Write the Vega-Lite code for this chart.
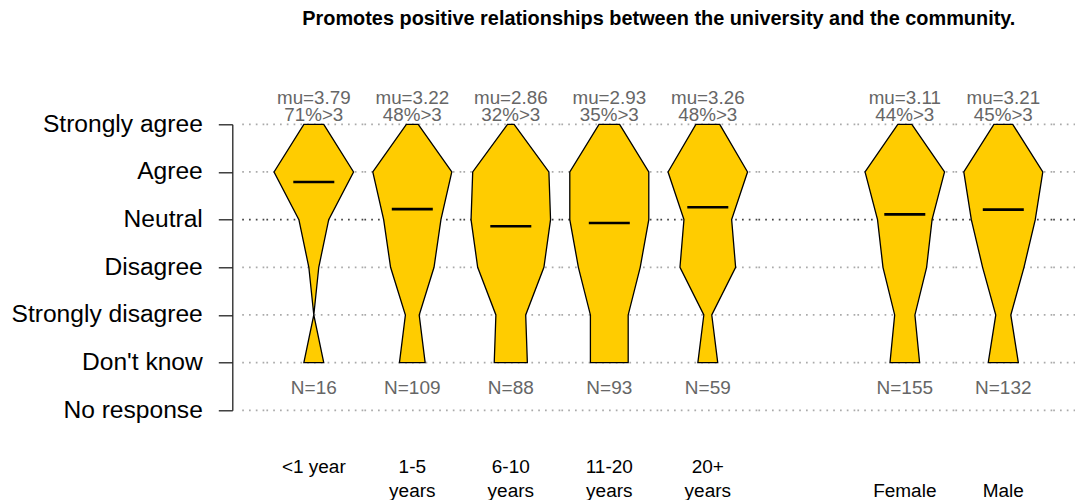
{
  "$schema": "https://vega.github.io/schema/vega-lite/v6.json",
  "padding": {"left": 10.3, "top": 9.3, "right": 0, "bottom": 0},
  "title": {
    "text": "Promotes positive relationships between the university and the community.",
    "font": "Liberation Sans",
    "fontSize": 19.9,
    "fontWeight": "bold",
    "color": "#000000",
    "anchor": "start",
    "frame": "group",
    "dx": 62,
    "offset": 60
  },
  "datasets": {
    "levels": [
      {"level": -1}, {"level": 0}, {"level": 1}, {"level": 2}, {"level": 3}, {"level": 4}, {"level": 5}
    ],
    "main": [
      {"grp": "<1 year", "kind": "shape", "level": 0, "count": 2},
      {"grp": "<1 year", "kind": "shape", "level": 1, "count": 0},
      {"grp": "<1 year", "kind": "shape", "level": 2, "count": 1},
      {"grp": "<1 year", "kind": "shape", "level": 3, "count": 3},
      {"grp": "<1 year", "kind": "shape", "level": 4, "count": 8},
      {"grp": "<1 year", "kind": "shape", "level": 5, "count": 2},
      {"grp": "1-5 years", "kind": "shape", "level": 0, "count": 13},
      {"grp": "1-5 years", "kind": "shape", "level": 1, "count": 7},
      {"grp": "1-5 years", "kind": "shape", "level": 2, "count": 22},
      {"grp": "1-5 years", "kind": "shape", "level": 3, "count": 29},
      {"grp": "1-5 years", "kind": "shape", "level": 4, "count": 40},
      {"grp": "1-5 years", "kind": "shape", "level": 5, "count": 6},
      {"grp": "6-10 years", "kind": "shape", "level": 0, "count": 10},
      {"grp": "6-10 years", "kind": "shape", "level": 1, "count": 9},
      {"grp": "6-10 years", "kind": "shape", "level": 2, "count": 20},
      {"grp": "6-10 years", "kind": "shape", "level": 3, "count": 24},
      {"grp": "6-10 years", "kind": "shape", "level": 4, "count": 23},
      {"grp": "6-10 years", "kind": "shape", "level": 5, "count": 2},
      {"grp": "11-20 years", "kind": "shape", "level": 0, "count": 11},
      {"grp": "11-20 years", "kind": "shape", "level": 1, "count": 11},
      {"grp": "11-20 years", "kind": "shape", "level": 2, "count": 18},
      {"grp": "11-20 years", "kind": "shape", "level": 3, "count": 23},
      {"grp": "11-20 years", "kind": "shape", "level": 4, "count": 23},
      {"grp": "11-20 years", "kind": "shape", "level": 5, "count": 6},
      {"grp": "20+ years", "kind": "shape", "level": 0, "count": 5},
      {"grp": "20+ years", "kind": "shape", "level": 1, "count": 2},
      {"grp": "20+ years", "kind": "shape", "level": 2, "count": 14},
      {"grp": "20+ years", "kind": "shape", "level": 3, "count": 12},
      {"grp": "20+ years", "kind": "shape", "level": 4, "count": 20},
      {"grp": "20+ years", "kind": "shape", "level": 5, "count": 6},
      {"grp": "Female", "kind": "shape", "level": 0, "count": 19},
      {"grp": "Female", "kind": "shape", "level": 1, "count": 13},
      {"grp": "Female", "kind": "shape", "level": 2, "count": 28},
      {"grp": "Female", "kind": "shape", "level": 3, "count": 35},
      {"grp": "Female", "kind": "shape", "level": 4, "count": 51},
      {"grp": "Female", "kind": "shape", "level": 5, "count": 9},
      {"grp": "Male", "kind": "shape", "level": 0, "count": 16},
      {"grp": "Male", "kind": "shape", "level": 1, "count": 8},
      {"grp": "Male", "kind": "shape", "level": 2, "count": 22},
      {"grp": "Male", "kind": "shape", "level": 3, "count": 34},
      {"grp": "Male", "kind": "shape", "level": 4, "count": 42},
      {"grp": "Male", "kind": "shape", "level": 5, "count": 10},
      {"grp": "<1 year", "kind": "stat", "mu": 3.79, "top": "mu=3.79\n71%>3", "ntext": "N=16", "label": "<1 year"},
      {"grp": "1-5 years", "kind": "stat", "mu": 3.22, "top": "mu=3.22\n48%>3", "ntext": "N=109", "label": "1-5\nyears"},
      {"grp": "6-10 years", "kind": "stat", "mu": 2.86, "top": "mu=2.86\n32%>3", "ntext": "N=88", "label": "6-10\nyears"},
      {"grp": "11-20 years", "kind": "stat", "mu": 2.93, "top": "mu=2.93\n35%>3", "ntext": "N=93", "label": "11-20\nyears"},
      {"grp": "20+ years", "kind": "stat", "mu": 3.26, "top": "mu=3.26\n48%>3", "ntext": "N=59", "label": "20+\nyears"},
      {"grp": "Female", "kind": "stat", "mu": 3.11, "top": "mu=3.11\n44%>3", "ntext": "N=155", "label": "\nFemale"},
      {"grp": "Male", "kind": "stat", "mu": 3.21, "top": "mu=3.21\n45%>3", "ntext": "N=132", "label": "\nMale"}
    ]
  },
  "spacing": 0,
  "bounds": "flush",
  "hconcat": [
    {
      "width": 24, "height": 286,
      "data": {"name": "levels"},
      "mark": {"type": "rule", "strokeDash": [1.7, 5.1], "strokeWidth": 1.7},
      "encoding": {
        "y": {
          "field": "level", "type": "quantitative",
          "scale": {"domain": [-1, 5], "nice": false, "zero": false},
          "axis": {
            "values": [-1, 0, 1, 2, 3, 4, 5],
            "labelExpr": "datum.value === 5 ? 'Strongly agree' : datum.value === 4 ? 'Agree' : datum.value === 3 ? 'Neutral' : datum.value === 2 ? 'Disagree' : datum.value === 1 ? 'Strongly disagree' : datum.value === 0 ? \"Don't know\" : 'No response'",
            "labelFont": "Liberation Sans", "labelFontSize": 24.6, "labelColor": "#000000",
            "labelPadding": 16, "labelLimit": 0, "labelOverlap": false, "labelFlush": false, "labelBaseline": "middle",
            "tickSize": 14, "tickColor": "#222222", "tickWidth": 1.3,
            "domainColor": "#222222", "domainWidth": 1.3,
            "offset": 8, "grid": false, "title": null
          }
        },
        "color": {"condition": {"test": "datum.level === 3", "value": "#444444"}, "value": "#aaaaaa"}
      }
    },
    {
      "width": 99, "height": 286,
      "layer": [
        {"data": {"name": "levels"}, "mark": {"type": "rule", "strokeDash": [1.7, 5.1], "strokeWidth": 1.7},
         "encoding": {"y": {"field": "level", "type": "quantitative", "scale": {"domain": [-1, 5], "nice": false, "zero": false}, "axis": null},
                      "color": {"condition": {"test": "datum.level === 3", "value": "#444444"}, "value": "#aaaaaa"}}},
        {"data": {"name": "main"}, "transform": [{"filter": "datum.grp === '<1 year' && datum.kind === 'shape'"}],
         "mark": {"type": "area", "orient": "horizontal", "fill": "#FFCC00", "stroke": "#000000", "strokeWidth": 1.3, "opacity": 1, "strokeJoin": "miter"},
         "encoding": {"y": {"field": "level", "type": "quantitative", "scale": {"domain": [-1, 5], "nice": false, "zero": false}, "axis": null},
                      "x": {"field": "count", "type": "quantitative", "stack": "center", "scale": {"zero": false, "nice": false, "padding": 9.75}, "axis": null}}},
        {"data": {"name": "main"}, "transform": [{"filter": "datum.grp === '<1 year' && datum.kind === 'stat'"}],
         "mark": {"type": "tick", "orient": "horizontal", "size": 41, "thickness": 2.6, "color": "#000000", "opacity": 1},
         "encoding": {"y": {"field": "mu", "type": "quantitative", "scale": {"domain": [-1, 5], "nice": false, "zero": false}, "axis": null}}},
        {"data": {"name": "main"}, "transform": [{"filter": "datum.grp === '<1 year' && datum.kind === 'stat'"}],
         "mark": {"type": "text", "font": "Liberation Sans", "fontSize": 18.8, "color": "#666666", "baseline": "alphabetic", "dy": -20, "lineBreak": "\n", "lineHeight": 16.7},
         "encoding": {"y": {"datum": 5, "type": "quantitative"}, "text": {"field": "top"}}},
        {"data": {"name": "main"}, "transform": [{"filter": "datum.grp === '<1 year' && datum.kind === 'stat'"}],
         "mark": {"type": "text", "font": "Liberation Sans", "fontSize": 19, "color": "#666666", "baseline": "alphabetic", "dy": 31.3},
         "encoding": {"y": {"datum": 0, "type": "quantitative"}, "text": {"field": "ntext"}}},
        {"data": {"name": "main"}, "transform": [{"filter": "datum.grp === '<1 year' && datum.kind === 'stat'"}],
         "mark": {"type": "text", "font": "Liberation Sans", "fontSize": 19, "color": "#000000", "baseline": "alphabetic", "dy": 63, "lineBreak": "\n", "lineHeight": 24},
         "encoding": {"y": {"datum": -1, "type": "quantitative"}, "text": {"field": "label"}}}
      ]
    },
    {
      "width": 98, "height": 286,
      "layer": [
        {"data": {"name": "levels"}, "mark": {"type": "rule", "strokeDash": [1.7, 5.1], "strokeWidth": 1.7},
         "encoding": {"y": {"field": "level", "type": "quantitative", "scale": {"domain": [-1, 5], "nice": false, "zero": false}, "axis": null},
                      "color": {"condition": {"test": "datum.level === 3", "value": "#444444"}, "value": "#aaaaaa"}}},
        {"data": {"name": "main"}, "transform": [{"filter": "datum.grp === '1-5 years' && datum.kind === 'shape'"}],
         "mark": {"type": "area", "orient": "horizontal", "fill": "#FFCC00", "stroke": "#000000", "strokeWidth": 1.3, "opacity": 1, "strokeJoin": "miter"},
         "encoding": {"y": {"field": "level", "type": "quantitative", "scale": {"domain": [-1, 5], "nice": false, "zero": false}, "axis": null},
                      "x": {"field": "count", "type": "quantitative", "stack": "center", "scale": {"zero": false, "nice": false, "padding": 9.5}, "axis": null}}},
        {"data": {"name": "main"}, "transform": [{"filter": "datum.grp === '1-5 years' && datum.kind === 'stat'"}],
         "mark": {"type": "tick", "orient": "horizontal", "size": 41, "thickness": 2.6, "color": "#000000", "opacity": 1},
         "encoding": {"y": {"field": "mu", "type": "quantitative", "scale": {"domain": [-1, 5], "nice": false, "zero": false}, "axis": null}}},
        {"data": {"name": "main"}, "transform": [{"filter": "datum.grp === '1-5 years' && datum.kind === 'stat'"}],
         "mark": {"type": "text", "font": "Liberation Sans", "fontSize": 18.8, "color": "#666666", "baseline": "alphabetic", "dy": -20, "lineBreak": "\n", "lineHeight": 16.7},
         "encoding": {"y": {"datum": 5, "type": "quantitative"}, "text": {"field": "top"}}},
        {"data": {"name": "main"}, "transform": [{"filter": "datum.grp === '1-5 years' && datum.kind === 'stat'"}],
         "mark": {"type": "text", "font": "Liberation Sans", "fontSize": 19, "color": "#666666", "baseline": "alphabetic", "dy": 31.3},
         "encoding": {"y": {"datum": 0, "type": "quantitative"}, "text": {"field": "ntext"}}},
        {"data": {"name": "main"}, "transform": [{"filter": "datum.grp === '1-5 years' && datum.kind === 'stat'"}],
         "mark": {"type": "text", "font": "Liberation Sans", "fontSize": 19, "color": "#000000", "baseline": "alphabetic", "dy": 63, "lineBreak": "\n", "lineHeight": 24},
         "encoding": {"y": {"datum": -1, "type": "quantitative"}, "text": {"field": "label"}}}
      ]
    },
    {
      "width": 99, "height": 286,
      "layer": [
        {"data": {"name": "levels"}, "mark": {"type": "rule", "strokeDash": [1.7, 5.1], "strokeWidth": 1.7},
         "encoding": {"y": {"field": "level", "type": "quantitative", "scale": {"domain": [-1, 5], "nice": false, "zero": false}, "axis": null},
                      "color": {"condition": {"test": "datum.level === 3", "value": "#444444"}, "value": "#aaaaaa"}}},
        {"data": {"name": "main"}, "transform": [{"filter": "datum.grp === '6-10 years' && datum.kind === 'shape'"}],
         "mark": {"type": "area", "orient": "horizontal", "fill": "#FFCC00", "stroke": "#000000", "strokeWidth": 1.3, "opacity": 1, "strokeJoin": "miter"},
         "encoding": {"y": {"field": "level", "type": "quantitative", "scale": {"domain": [-1, 5], "nice": false, "zero": false}, "axis": null},
                      "x": {"field": "count", "type": "quantitative", "stack": "center", "scale": {"zero": false, "nice": false, "padding": 9.75}, "axis": null}}},
        {"data": {"name": "main"}, "transform": [{"filter": "datum.grp === '6-10 years' && datum.kind === 'stat'"}],
         "mark": {"type": "tick", "orient": "horizontal", "size": 41, "thickness": 2.6, "color": "#000000", "opacity": 1},
         "encoding": {"y": {"field": "mu", "type": "quantitative", "scale": {"domain": [-1, 5], "nice": false, "zero": false}, "axis": null}}},
        {"data": {"name": "main"}, "transform": [{"filter": "datum.grp === '6-10 years' && datum.kind === 'stat'"}],
         "mark": {"type": "text", "font": "Liberation Sans", "fontSize": 18.8, "color": "#666666", "baseline": "alphabetic", "dy": -20, "lineBreak": "\n", "lineHeight": 16.7},
         "encoding": {"y": {"datum": 5, "type": "quantitative"}, "text": {"field": "top"}}},
        {"data": {"name": "main"}, "transform": [{"filter": "datum.grp === '6-10 years' && datum.kind === 'stat'"}],
         "mark": {"type": "text", "font": "Liberation Sans", "fontSize": 19, "color": "#666666", "baseline": "alphabetic", "dy": 31.3},
         "encoding": {"y": {"datum": 0, "type": "quantitative"}, "text": {"field": "ntext"}}},
        {"data": {"name": "main"}, "transform": [{"filter": "datum.grp === '6-10 years' && datum.kind === 'stat'"}],
         "mark": {"type": "text", "font": "Liberation Sans", "fontSize": 19, "color": "#000000", "baseline": "alphabetic", "dy": 63, "lineBreak": "\n", "lineHeight": 24},
         "encoding": {"y": {"datum": -1, "type": "quantitative"}, "text": {"field": "label"}}}
      ]
    },
    {
      "width": 98, "height": 286,
      "layer": [
        {"data": {"name": "levels"}, "mark": {"type": "rule", "strokeDash": [1.7, 5.1], "strokeWidth": 1.7},
         "encoding": {"y": {"field": "level", "type": "quantitative", "scale": {"domain": [-1, 5], "nice": false, "zero": false}, "axis": null},
                      "color": {"condition": {"test": "datum.level === 3", "value": "#444444"}, "value": "#aaaaaa"}}},
        {"data": {"name": "main"}, "transform": [{"filter": "datum.grp === '11-20 years' && datum.kind === 'shape'"}],
         "mark": {"type": "area", "orient": "horizontal", "fill": "#FFCC00", "stroke": "#000000", "strokeWidth": 1.3, "opacity": 1, "strokeJoin": "miter"},
         "encoding": {"y": {"field": "level", "type": "quantitative", "scale": {"domain": [-1, 5], "nice": false, "zero": false}, "axis": null},
                      "x": {"field": "count", "type": "quantitative", "stack": "center", "scale": {"zero": false, "nice": false, "padding": 9.5}, "axis": null}}},
        {"data": {"name": "main"}, "transform": [{"filter": "datum.grp === '11-20 years' && datum.kind === 'stat'"}],
         "mark": {"type": "tick", "orient": "horizontal", "size": 41, "thickness": 2.6, "color": "#000000", "opacity": 1},
         "encoding": {"y": {"field": "mu", "type": "quantitative", "scale": {"domain": [-1, 5], "nice": false, "zero": false}, "axis": null}}},
        {"data": {"name": "main"}, "transform": [{"filter": "datum.grp === '11-20 years' && datum.kind === 'stat'"}],
         "mark": {"type": "text", "font": "Liberation Sans", "fontSize": 18.8, "color": "#666666", "baseline": "alphabetic", "dy": -20, "lineBreak": "\n", "lineHeight": 16.7},
         "encoding": {"y": {"datum": 5, "type": "quantitative"}, "text": {"field": "top"}}},
        {"data": {"name": "main"}, "transform": [{"filter": "datum.grp === '11-20 years' && datum.kind === 'stat'"}],
         "mark": {"type": "text", "font": "Liberation Sans", "fontSize": 19, "color": "#666666", "baseline": "alphabetic", "dy": 31.3},
         "encoding": {"y": {"datum": 0, "type": "quantitative"}, "text": {"field": "ntext"}}},
        {"data": {"name": "main"}, "transform": [{"filter": "datum.grp === '11-20 years' && datum.kind === 'stat'"}],
         "mark": {"type": "text", "font": "Liberation Sans", "fontSize": 19, "color": "#000000", "baseline": "alphabetic", "dy": 63, "lineBreak": "\n", "lineHeight": 24},
         "encoding": {"y": {"datum": -1, "type": "quantitative"}, "text": {"field": "label"}}}
      ]
    },
    {
      "width": 99, "height": 286,
      "layer": [
        {"data": {"name": "levels"}, "mark": {"type": "rule", "strokeDash": [1.7, 5.1], "strokeWidth": 1.7},
         "encoding": {"y": {"field": "level", "type": "quantitative", "scale": {"domain": [-1, 5], "nice": false, "zero": false}, "axis": null},
                      "color": {"condition": {"test": "datum.level === 3", "value": "#444444"}, "value": "#aaaaaa"}}},
        {"data": {"name": "main"}, "transform": [{"filter": "datum.grp === '20+ years' && datum.kind === 'shape'"}],
         "mark": {"type": "area", "orient": "horizontal", "fill": "#FFCC00", "stroke": "#000000", "strokeWidth": 1.3, "opacity": 1, "strokeJoin": "miter"},
         "encoding": {"y": {"field": "level", "type": "quantitative", "scale": {"domain": [-1, 5], "nice": false, "zero": false}, "axis": null},
                      "x": {"field": "count", "type": "quantitative", "stack": "center", "scale": {"zero": false, "nice": false, "padding": 9.75}, "axis": null}}},
        {"data": {"name": "main"}, "transform": [{"filter": "datum.grp === '20+ years' && datum.kind === 'stat'"}],
         "mark": {"type": "tick", "orient": "horizontal", "size": 41, "thickness": 2.6, "color": "#000000", "opacity": 1},
         "encoding": {"y": {"field": "mu", "type": "quantitative", "scale": {"domain": [-1, 5], "nice": false, "zero": false}, "axis": null}}},
        {"data": {"name": "main"}, "transform": [{"filter": "datum.grp === '20+ years' && datum.kind === 'stat'"}],
         "mark": {"type": "text", "font": "Liberation Sans", "fontSize": 18.8, "color": "#666666", "baseline": "alphabetic", "dy": -20, "lineBreak": "\n", "lineHeight": 16.7},
         "encoding": {"y": {"datum": 5, "type": "quantitative"}, "text": {"field": "top"}}},
        {"data": {"name": "main"}, "transform": [{"filter": "datum.grp === '20+ years' && datum.kind === 'stat'"}],
         "mark": {"type": "text", "font": "Liberation Sans", "fontSize": 19, "color": "#666666", "baseline": "alphabetic", "dy": 31.3},
         "encoding": {"y": {"datum": 0, "type": "quantitative"}, "text": {"field": "ntext"}}},
        {"data": {"name": "main"}, "transform": [{"filter": "datum.grp === '20+ years' && datum.kind === 'stat'"}],
         "mark": {"type": "text", "font": "Liberation Sans", "fontSize": 19, "color": "#000000", "baseline": "alphabetic", "dy": 63, "lineBreak": "\n", "lineHeight": 24},
         "encoding": {"y": {"datum": -1, "type": "quantitative"}, "text": {"field": "label"}}}
      ]
    },
    {
      "width": 98, "height": 286,
      "data": {"name": "levels"},
      "mark": {"type": "rule", "strokeDash": [1.7, 5.1], "strokeWidth": 1.7},
      "encoding": {
        "y": {"field": "level", "type": "quantitative", "scale": {"domain": [-1, 5], "nice": false, "zero": false}, "axis": null},
        "color": {"condition": {"test": "datum.level === 3", "value": "#444444"}, "value": "#aaaaaa"}
      }
    },
    {
      "width": 99, "height": 286,
      "layer": [
        {"data": {"name": "levels"}, "mark": {"type": "rule", "strokeDash": [1.7, 5.1], "strokeWidth": 1.7},
         "encoding": {"y": {"field": "level", "type": "quantitative", "scale": {"domain": [-1, 5], "nice": false, "zero": false}, "axis": null},
                      "color": {"condition": {"test": "datum.level === 3", "value": "#444444"}, "value": "#aaaaaa"}}},
        {"data": {"name": "main"}, "transform": [{"filter": "datum.grp === 'Female' && datum.kind === 'shape'"}],
         "mark": {"type": "area", "orient": "horizontal", "fill": "#FFCC00", "stroke": "#000000", "strokeWidth": 1.3, "opacity": 1, "strokeJoin": "miter"},
         "encoding": {"y": {"field": "level", "type": "quantitative", "scale": {"domain": [-1, 5], "nice": false, "zero": false}, "axis": null},
                      "x": {"field": "count", "type": "quantitative", "stack": "center", "scale": {"zero": false, "nice": false, "padding": 9.75}, "axis": null}}},
        {"data": {"name": "main"}, "transform": [{"filter": "datum.grp === 'Female' && datum.kind === 'stat'"}],
         "mark": {"type": "tick", "orient": "horizontal", "size": 41, "thickness": 2.6, "color": "#000000", "opacity": 1},
         "encoding": {"y": {"field": "mu", "type": "quantitative", "scale": {"domain": [-1, 5], "nice": false, "zero": false}, "axis": null}}},
        {"data": {"name": "main"}, "transform": [{"filter": "datum.grp === 'Female' && datum.kind === 'stat'"}],
         "mark": {"type": "text", "font": "Liberation Sans", "fontSize": 18.8, "color": "#666666", "baseline": "alphabetic", "dy": -20, "lineBreak": "\n", "lineHeight": 16.7},
         "encoding": {"y": {"datum": 5, "type": "quantitative"}, "text": {"field": "top"}}},
        {"data": {"name": "main"}, "transform": [{"filter": "datum.grp === 'Female' && datum.kind === 'stat'"}],
         "mark": {"type": "text", "font": "Liberation Sans", "fontSize": 19, "color": "#666666", "baseline": "alphabetic", "dy": 31.3},
         "encoding": {"y": {"datum": 0, "type": "quantitative"}, "text": {"field": "ntext"}}},
        {"data": {"name": "main"}, "transform": [{"filter": "datum.grp === 'Female' && datum.kind === 'stat'"}],
         "mark": {"type": "text", "font": "Liberation Sans", "fontSize": 19, "color": "#000000", "baseline": "alphabetic", "dy": 63, "lineBreak": "\n", "lineHeight": 24},
         "encoding": {"y": {"datum": -1, "type": "quantitative"}, "text": {"field": "label"}}}
      ]
    },
    {
      "width": 98, "height": 286,
      "layer": [
        {"data": {"name": "levels"}, "mark": {"type": "rule", "strokeDash": [1.7, 5.1], "strokeWidth": 1.7},
         "encoding": {"y": {"field": "level", "type": "quantitative", "scale": {"domain": [-1, 5], "nice": false, "zero": false}, "axis": null},
                      "color": {"condition": {"test": "datum.level === 3", "value": "#444444"}, "value": "#aaaaaa"}}},
        {"data": {"name": "main"}, "transform": [{"filter": "datum.grp === 'Male' && datum.kind === 'shape'"}],
         "mark": {"type": "area", "orient": "horizontal", "fill": "#FFCC00", "stroke": "#000000", "strokeWidth": 1.3, "opacity": 1, "strokeJoin": "miter"},
         "encoding": {"y": {"field": "level", "type": "quantitative", "scale": {"domain": [-1, 5], "nice": false, "zero": false}, "axis": null},
                      "x": {"field": "count", "type": "quantitative", "stack": "center", "scale": {"zero": false, "nice": false, "padding": 9.5}, "axis": null}}},
        {"data": {"name": "main"}, "transform": [{"filter": "datum.grp === 'Male' && datum.kind === 'stat'"}],
         "mark": {"type": "tick", "orient": "horizontal", "size": 41, "thickness": 2.6, "color": "#000000", "opacity": 1},
         "encoding": {"y": {"field": "mu", "type": "quantitative", "scale": {"domain": [-1, 5], "nice": false, "zero": false}, "axis": null}}},
        {"data": {"name": "main"}, "transform": [{"filter": "datum.grp === 'Male' && datum.kind === 'stat'"}],
         "mark": {"type": "text", "font": "Liberation Sans", "fontSize": 18.8, "color": "#666666", "baseline": "alphabetic", "dy": -20, "lineBreak": "\n", "lineHeight": 16.7},
         "encoding": {"y": {"datum": 5, "type": "quantitative"}, "text": {"field": "top"}}},
        {"data": {"name": "main"}, "transform": [{"filter": "datum.grp === 'Male' && datum.kind === 'stat'"}],
         "mark": {"type": "text", "font": "Liberation Sans", "fontSize": 19, "color": "#666666", "baseline": "alphabetic", "dy": 31.3},
         "encoding": {"y": {"datum": 0, "type": "quantitative"}, "text": {"field": "ntext"}}},
        {"data": {"name": "main"}, "transform": [{"filter": "datum.grp === 'Male' && datum.kind === 'stat'"}],
         "mark": {"type": "text", "font": "Liberation Sans", "fontSize": 19, "color": "#000000", "baseline": "alphabetic", "dy": 63, "lineBreak": "\n", "lineHeight": 24},
         "encoding": {"y": {"datum": -1, "type": "quantitative"}, "text": {"field": "label"}}}
      ]
    },
    {
      "width": 23, "height": 286,
      "data": {"name": "levels"},
      "mark": {"type": "rule", "strokeDash": [1.7, 5.1], "strokeWidth": 1.7},
      "encoding": {
        "y": {"field": "level", "type": "quantitative", "scale": {"domain": [-1, 5], "nice": false, "zero": false}, "axis": null},
        "color": {"condition": {"test": "datum.level === 3", "value": "#444444"}, "value": "#aaaaaa"}
      }
    }
  ],
  "config": {
    "view": {"stroke": null},
    "font": "Liberation Sans",
    "concat": {"spacing": 0}
  }
}
